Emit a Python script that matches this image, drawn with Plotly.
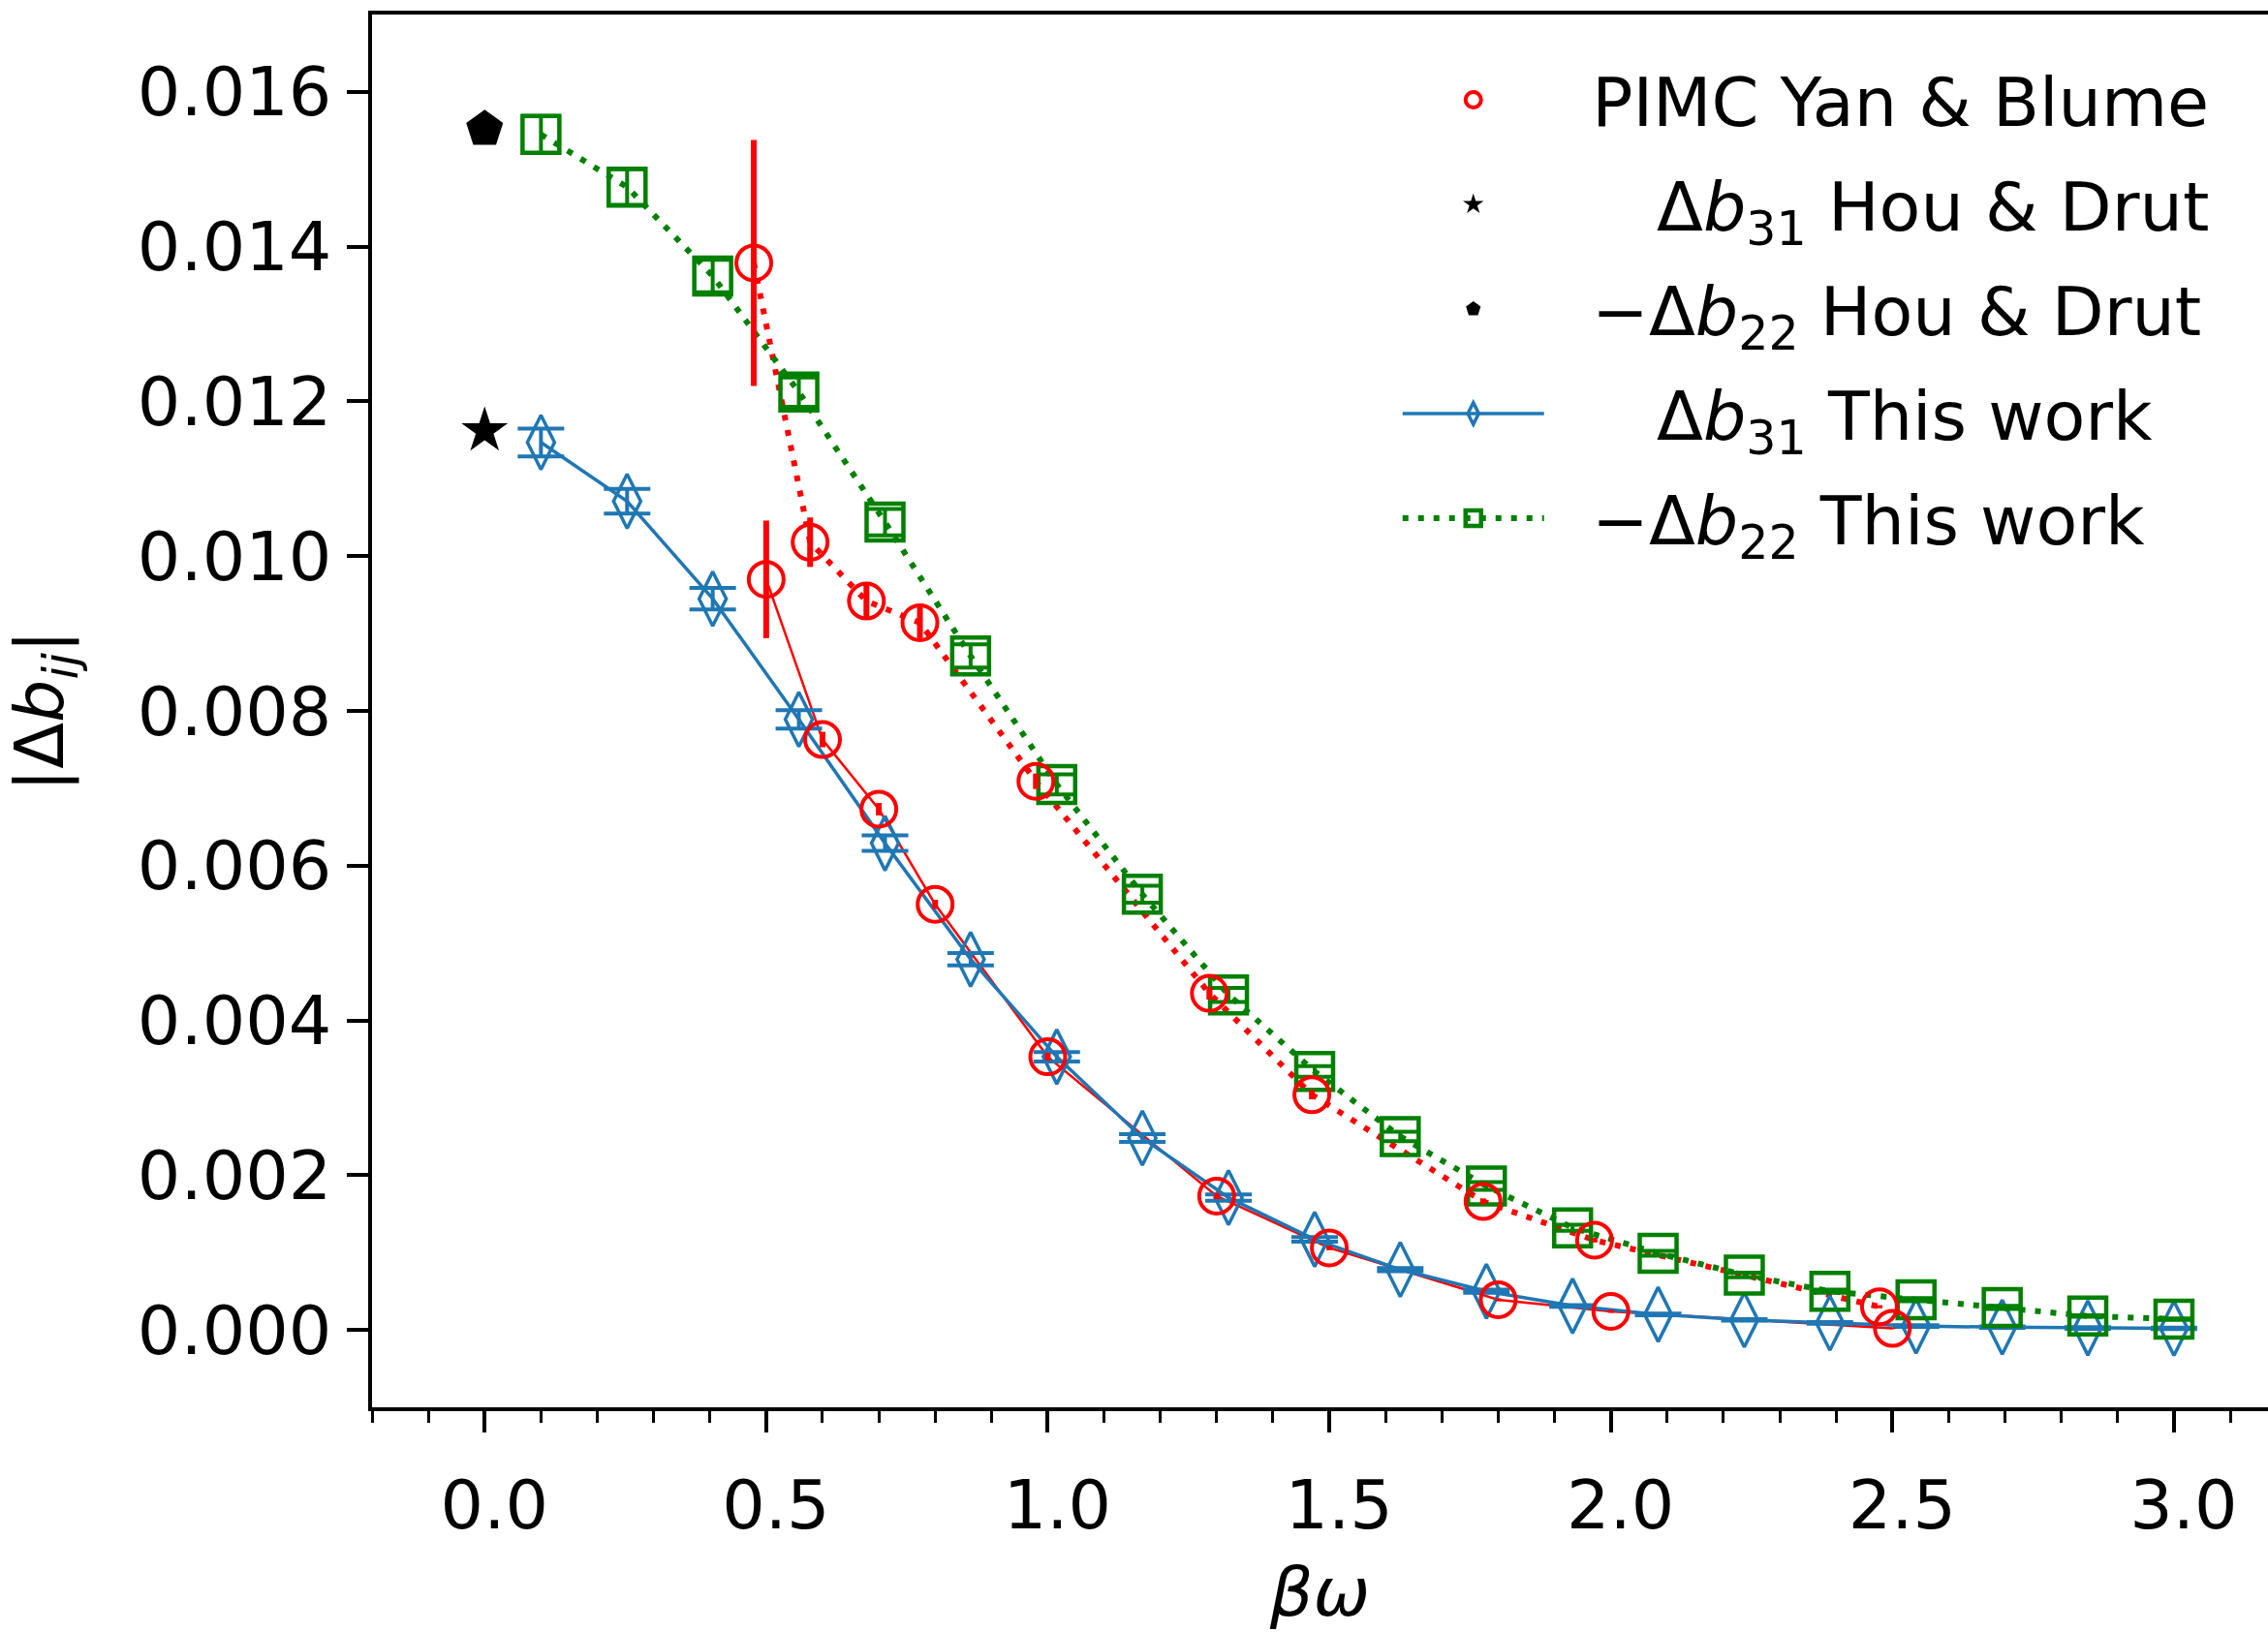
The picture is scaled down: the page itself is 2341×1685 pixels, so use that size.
import plotly.graph_objects as go

# ---- data -------------------------------------------------------------
# beta*omega grid of the "This work" results
bw_this = [0.1, 0.253, 0.405, 0.558, 0.711, 0.863, 1.016, 1.168, 1.321, 1.474,
           1.626, 1.779, 1.932, 2.084, 2.237, 2.389, 2.542, 2.695, 2.847, 3.0]
db31_this = [0.01147, 0.01071, 0.00945, 0.00789, 0.00629, 0.00479, 0.00353, 0.00248,
             0.00171, 0.00117, 0.00078, 0.00050, 0.00031, 0.00020, 0.00013, 0.00009,
             0.00005, 0.000035, 0.000025, 0.00002]
db31_this_err = [0.00018, 0.00016, 0.00014, 0.00012, 0.00010, 0.00008, 0.00006, 0.00005,
                 0.00004, 0.00003, 0.00002, 0.00002, 0.00001, 0.00001, 0.00001, 0.00001,
                 0.00001, 0.00001, 0.00001, 0.00001]
mdb22_this = [0.01545, 0.01477, 0.01362, 0.01212, 0.01044, 0.00871, 0.00705, 0.00563,
              0.00433, 0.00334, 0.00250, 0.00186, 0.00132, 0.00099, 0.00071, 0.00050,
              0.00039, 0.00029, 0.00018, 0.00014]
mdb22_this_err = [0.00024, 0.00023, 0.00021, 0.00019, 0.00017, 0.00015, 0.00013, 0.00011,
                  0.00009, 0.00007, 0.00006, 0.00005, 0.00004, 0.00003, 0.00003, 0.00002,
                  0.00002, 0.00002, 0.00001, 0.00001]

# PIMC (Yan & Blume): Delta b31 set and -Delta b22 set
pimc31_x = [0.5, 0.6, 0.7, 0.8, 1.0, 1.3, 1.5, 1.8, 2.0, 2.5]
pimc31_y = [0.00970, 0.00763, 0.00673, 0.00550, 0.00353, 0.00173, 0.00106, 0.00039,
            0.00024, 0.00002]
pimc31_err = [0.00076, 0.00010, 0.00008, 0.00006, 0.00005, 0.00004, 0.00003, 0.00002,
              0.00002, 0.00001]
pimc22_x = [0.478, 0.578, 0.678, 0.773, 0.979, 1.287, 1.469, 1.773, 1.971, 2.477]
pimc22_y = [0.01379, 0.01018, 0.00942, 0.00914, 0.00709, 0.00435, 0.00304, 0.00166,
            0.00116, 0.00030]
pimc22_err = [0.00159, 0.00032, 0.00022, 0.00020, 0.00010, 0.00008, 0.00006, 0.00004,
              0.00003, 0.00002]

# Hou & Drut values at beta*omega = 0
hd_x = [0.0]
hd31_y = [0.01162]
hd22_y = [0.01552]

x_ticks = [0.0, 0.5, 1.0, 1.5, 2.0, 2.5, 3.0]
y_ticks = [0.000, 0.002, 0.004, 0.006, 0.008, 0.010, 0.012, 0.014, 0.016]

# ---- style ------------------------------------------------------------
FONT = "DejaVu Sans"
FS = 70
BLUE = "#1f77b4"
GREEN = "#008000"
RED = "#ff0000"
NB = "\u00a0"
GAP = NB * 2          # space between legend symbol and label
PAD = NB * 3          # extra indent used by the Delta b31 labels

fig = go.Figure()

# connecting lines of the PIMC data (no legend entries)
fig.add_trace(go.Scatter(x=pimc31_x, y=pimc31_y, mode="lines",
                         line=dict(color=RED, width=2.5), showlegend=False,
                         hoverinfo="skip"))
fig.add_trace(go.Scatter(x=pimc22_x, y=pimc22_y, mode="lines",
                         line=dict(color=RED, width=6, dash="6px,10px"),
                         showlegend=False, hoverinfo="skip"))

# This work: Delta b31
fig.add_trace(go.Scatter(
    x=bw_this, y=db31_this, mode="lines+markers",
    name=GAP + PAD + "Δ<i>b</i><sub>31</sub> This work", legendrank=4, legendgroup="g4",
    line=dict(color=BLUE, width=3.5),
    marker=dict(symbol="diamond-tall-open", size=40, color=BLUE,
                line=dict(color=BLUE, width=3.5)),
    error_y=dict(type="data", array=db31_this_err, color=BLUE, thickness=4, width=24),
))

# This work: -Delta b22
fig.add_trace(go.Scatter(
    x=bw_this, y=mdb22_this, mode="lines+markers",
    name=GAP + "−Δ<i>b</i><sub>22</sub> This work", legendrank=5, legendgroup="g5",
    line=dict(color=GREEN, width=6, dash="6px,10px"),
    marker=dict(symbol="square-open", size=38, color=GREEN,
                line=dict(color=GREEN, width=4.5)),
    error_y=dict(type="data", array=mdb22_this_err, color=GREEN, thickness=4, width=20),
))

# PIMC markers with error bars (single legend entry)
fig.add_trace(go.Scatter(
    x=pimc31_x + pimc22_x, y=pimc31_y + pimc22_y, mode="markers",
    name=GAP + "PIMC Yan & Blume", legendrank=1, legendgroup="g1",
    marker=dict(symbol="circle-open", size=36, color=RED,
                line=dict(color=RED, width=4)),
    error_y=dict(type="data", array=pimc31_err + pimc22_err, color=RED,
                 thickness=6, width=0),
))

# Hou & Drut
fig.add_trace(go.Scatter(
    x=hd_x, y=hd31_y, mode="markers",
    name=GAP + PAD + "Δ<i>b</i><sub>31</sub> Hou & Drut", legendrank=2, legendgroup="g2",
    marker=dict(symbol="star", size=36, color="black", line=dict(width=0)),
))
fig.add_trace(go.Scatter(
    x=hd_x, y=hd22_y, mode="markers",
    name=GAP + "−Δ<i>b</i><sub>22</sub> Hou & Drut", legendrank=3, legendgroup="g3",
    marker=dict(symbol="pentagon", size=40, color="black", line=dict(width=0)),
))

axis_common = dict(
    showgrid=False, zeroline=False, showline=True, linecolor="black", linewidth=3.5,
    ticks="outside", ticklen=22, tickwidth=3.5, tickcolor="black", automargin=False,
    tickfont=dict(family=FONT, size=FS, color="black"),
)

fig.update_layout(
    width=2341, height=1685,
    margin=dict(l=384, r=0, t=15, b=232),
    paper_bgcolor="white", plot_bgcolor="white",
    font=dict(family=FONT, size=FS, color="black"),
    xaxis=dict(
        **axis_common,
        range=[-0.2, 3.167], mirror=True,
        tickvals=x_ticks, ticktext=[f"{v:.1f}" for v in x_ticks],
        ticklabelstandoff=15, ticklabelshift=10,
        minor=dict(dtick=0.1, tick0=0.0, ticks="outside", ticklen=12, tickwidth=3,
                   tickcolor="black", showgrid=False),
        title=dict(text="<i>βω</i>", font=dict(family=FONT, size=FS), standoff=43),
    ),
    yaxis=dict(
        **axis_common,
        range=[-0.001, 0.017], mirror=False,
        tickvals=y_ticks, ticktext=[f"{v:.3f}" for v in y_ticks],
        ticklabelstandoff=2,
        title=dict(text="|Δ<i>b</i><sub><i>ij</i></sub>|",
                   font=dict(family=FONT, size=FS), standoff=79),
    ),
    legend=dict(
        x=0.541, y=0.975, xanchor="left", yanchor="top",
        bgcolor="rgba(0,0,0,0)", borderwidth=0,
        font=dict(family=FONT, size=FS, color="black"),
        itemwidth=146, traceorder="grouped", tracegroupgap=14,
    ),
    showlegend=True,
)

fig.write_html("out.html")
